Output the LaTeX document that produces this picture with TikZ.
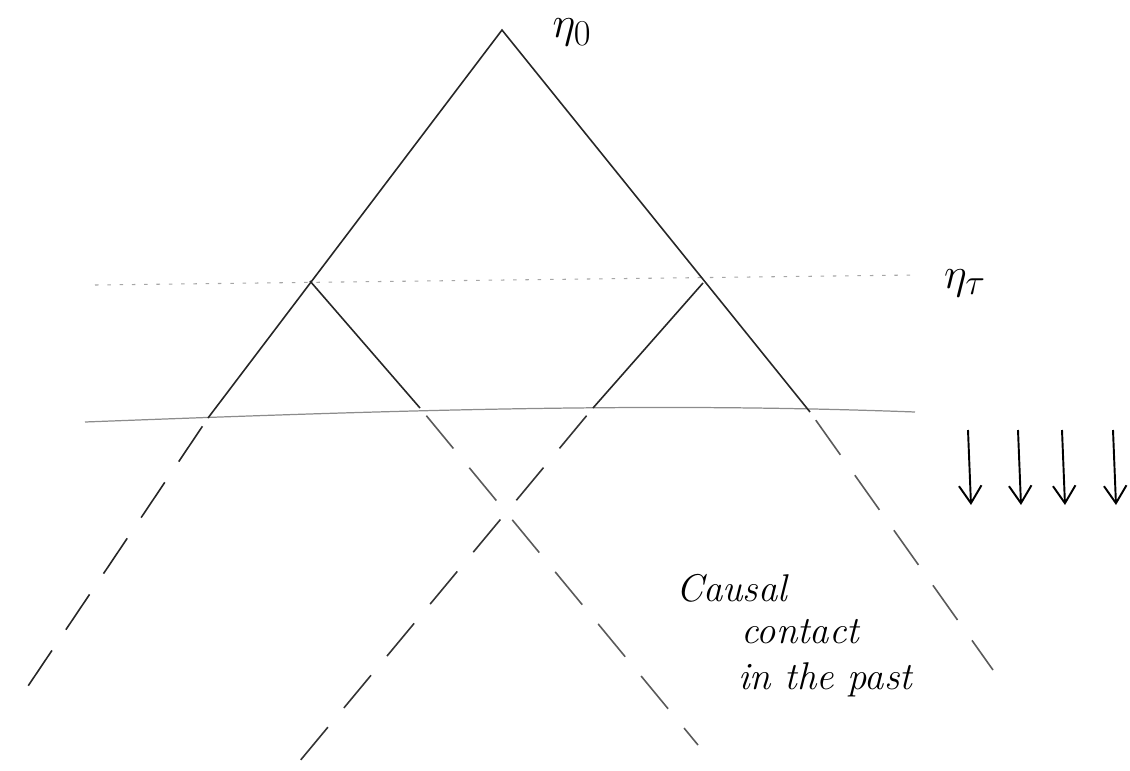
\documentclass[tikz,border=0pt]{standalone}
\usetikzlibrary{arrows.meta}

\begin{document}
\begin{tikzpicture}[
    x=0.02cm, y=-0.02cm,
    cone/.style={line width=0.9pt, black!85},
    past/.style={line width=0.9pt, black!65, dash pattern=on 0.85cm off 0.5cm, dash phase=1.15cm},
    slice/.style={line width=0.7pt, black!45},
    horizon/.style={line width=0.6pt, black!35, dash pattern=on 2pt off 5pt},
    label/.style={font=\fontsize{30}{30}\selectfont},
    note/.style={font=\fontsize{22}{26}\selectfont\itshape, anchor=west},
    >={Straight Barb[length=0.35cm, width=0.45cm]}
  ]
  \useasboundingbox (0,0) rectangle (1130,771);

  % Points of the large cone
  \coordinate (apex) at (502,30);
  \coordinate (bl) at (208,418);
  \coordinate (br) at (810,412);
  \coordinate (blend) at (18,701);
  \coordinate (brend) at (993,670);

  % Points of the small cones
  \coordinate (tl) at (310,281);
  \coordinate (tr) at (703,283);
  \coordinate (ml) at (420,408);
  \coordinate (mr) at (593,408);
  \coordinate (mlend) at (698,745);
  \coordinate (mrend) at (294,768);

  % Time slices
  \coordinate (hl) at (95,285);
  \coordinate (hr) at (915,275);
  \coordinate (sl) at (85,422);
  \coordinate (sr) at (915,412);

  % Horizon line at eta_tau
  \draw[horizon] (hl) -- (hr);

  % Surface
  \draw[slice] (sl) .. controls (400,410) and (650,402) .. (sr);

  % Large cone
  \draw[cone] (bl) -- (apex) -- (br);
  \draw[past, black!85] (bl) -- (blend);
  \draw[past] (br) -- (brend);

  % Small cones
  \draw[cone] (tl) -- (ml);
  \draw[cone] (tr) -- (mr);
  \draw[past] (ml) -- (mlend);
  \draw[past, black!80] (mr) -- (mrend);

  % Labels
  \node[label] (eta0) at (572,32) {$\eta_0$};
  \node[label] (etat) at (965,283) {$\eta_\tau$};

  % Arrows
  \foreach \ax [count=\i] in {968,1018,1062,1113} {
    \coordinate (a\i) at (\ax,430);
    \coordinate (b\i) at (\ax+3,505);
    \draw[->, line width=1.1pt] (a\i) -- (b\i);
  }

  % Text
  \node[note] (causal) at (670,588) {Causal};
  \node[note] (contact) at (735,632) {contact};
  \node[note] (past) at (732,680) {in the past};
\end{tikzpicture}
\end{document}
